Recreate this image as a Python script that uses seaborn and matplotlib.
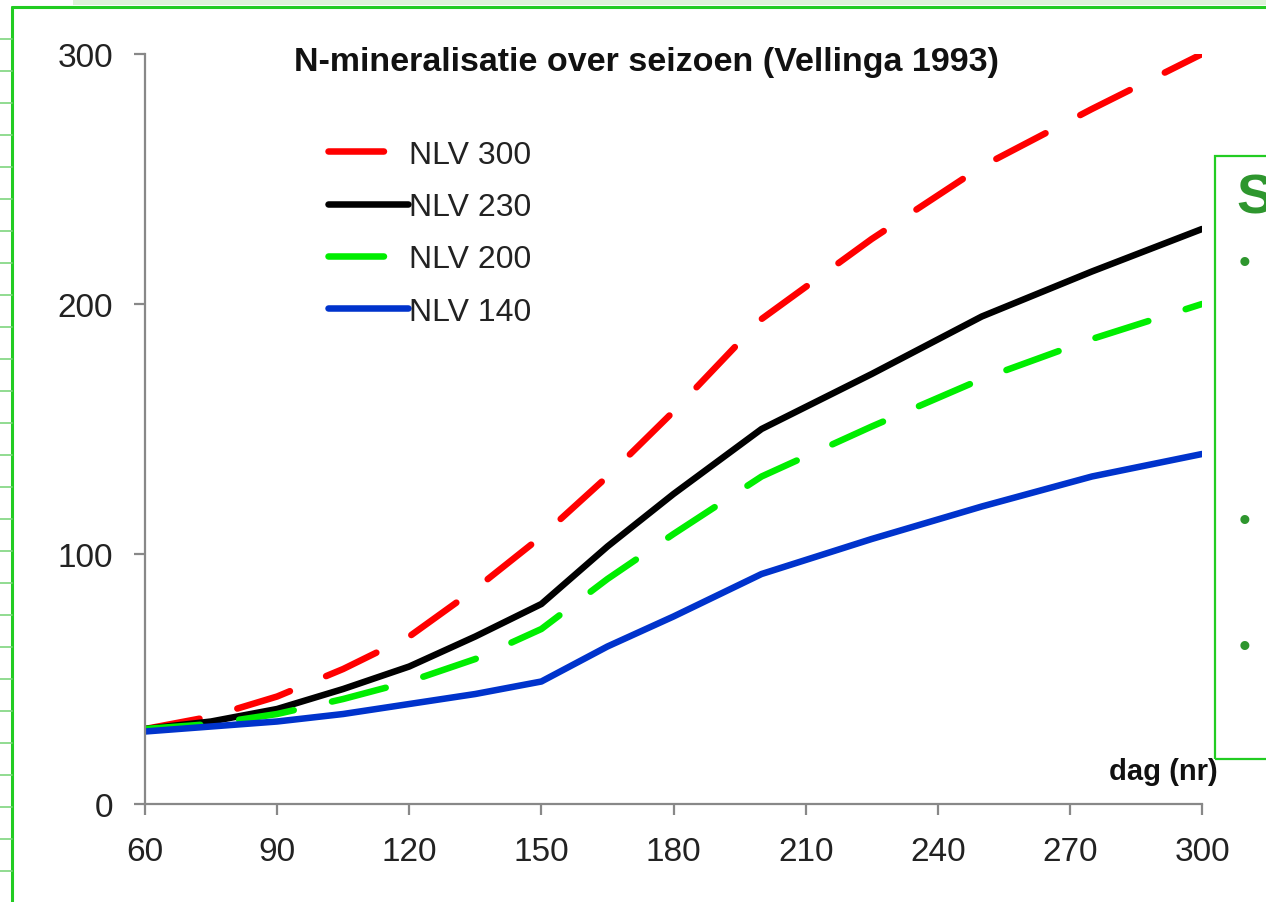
import pandas as pd
import seaborn as sns
import matplotlib.pyplot as plt
from matplotlib.patches import Rectangle
from matplotlib.lines import Line2D

# data
days = [60, 75, 90, 105, 120, 135, 150, 165, 180, 200, 225, 250, 275, 300]
nlv300 = [30, 35, 43, 54, 67, 86, 107, 131, 157, 194, 226, 255, 278, 300]
nlv230 = [30, 33, 38, 46, 55, 67, 80, 103, 124, 150, 172, 195, 213, 230]
nlv200 = [30, 32, 36, 42, 49, 58, 70, 90, 108, 131, 151, 170, 186, 200]
nlv140 = [29, 31, 33, 36, 40, 44, 49, 63, 75, 92, 106, 119, 131, 140]
series = ['NLV 300', 'NLV 230', 'NLV 200', 'NLV 140']
x_ticks = [60, 90, 120, 150, 180, 210, 240, 270, 300]
y_ticks = [0, 100, 200, 300]

df = pd.DataFrame({'dag': days * 4,
                   'N': nlv300 + nlv230 + nlv200 + nlv140,
                   'serie': [s for s in series for _ in days]})

sns.set_style('white')
plt.rcParams['font.family'] = ['Liberation Sans', 'DejaVu Sans']
plt.rcParams['lines.dash_capstyle'] = 'round'
plt.rcParams['lines.solid_capstyle'] = 'round'

W, H = 1266, 903
fig = plt.figure(figsize=(W / 100, H / 100), dpi=100)
ax = fig.add_axes([145 / W, (H - 805) / H, 1057 / W, 750 / H])

colors = {'NLV 300': '#FF0000', 'NLV 230': '#000000',
          'NLV 200': '#00EE00', 'NLV 140': '#0033CC'}
dashes = {'NLV 300': (8.5, 6), 'NLV 230': '', 'NLV 200': (8.5, 6), 'NLV 140': ''}

sns.lineplot(data=df, x='dag', y='N', hue='serie', style='serie',
             hue_order=series, style_order=series, palette=colors,
             dashes=dashes, linewidth=4.7, ax=ax, legend=False)

ax.set_xlim(60, 300)
ax.set_ylim(0, 300)
ax.set_xticks(x_ticks)
ax.set_yticks(y_ticks)
ax.set_xlabel('')
ax.set_ylabel('')
for s in ['top', 'right']:
    ax.spines[s].set_visible(False)
for s in ['left', 'bottom']:
    ax.spines[s].set_color('#888888')
    ax.spines[s].set_linewidth(1.6)
ax.tick_params(axis='both', direction='out', length=8, width=1.6,
               color='#888888', labelsize=24, labelcolor='#222222', pad=15)
ax.tick_params(axis='x', bottom=True)
ax.tick_params(axis='y', left=True)

handles = [Line2D([], [], color=colors[s], lw=4.7,
                  linestyle=(0, dashes[s]) if dashes[s] else '-') for s in series]
ax.legend(handles, series, loc='upper left', bbox_to_anchor=(0.173, 0.886),
          frameon=False, fontsize=23, handlelength=2.5, handletextpad=0.05,
          labelspacing=0.7, borderpad=0, borderaxespad=0, labelcolor='#222222')

fig.text(647 / W, 1 - 63 / H, 'N-mineralisatie over seizoen (Vellinga 1993)',
         ha='center', va='center', fontsize=24.5, fontweight='bold', color='#111111')
fig.text(1218 / W, 1 - 772 / H, 'dag (nr)', ha='right', va='center',
         fontsize=21, fontweight='bold', color='#111111')

# slide leftovers around the chart
green = '#22CC22'
fig.add_artist(Line2D([12 / W, 12 / W], [0, 1 - 8 / H], color=green, lw=2.2))
fig.add_artist(Line2D([12 / W, 1], [1 - 8 / H, 1 - 8 / H], color=green, lw=2.2))
fig.add_artist(Rectangle((73 / W, 1 - 6 / H), 1, 6 / H, color='#DDF2D8', lw=0))
for yy in range(40, H, 32):
    fig.add_artist(Line2D([0, 12 / W], [1 - yy / H, 1 - yy / H], color='#7ED67E', lw=1.2))
fig.add_artist(Rectangle((1215 / W, 1 - 760 / H), 0.2, (760 - 157) / H,
                         fill=False, edgecolor=green, lw=1.6))
fig.text(1236 / W, 1 - 200 / H, 'S', ha='left', va='center', fontsize=40,
         fontweight='bold', color='#2E962E')
for yy in [265, 522, 648]:
    fig.text(1245 / W, 1 - yy / H, '•', ha='center', va='center',
             fontsize=24, color='#2E962E')

fig.savefig('out.png', dpi=100)
